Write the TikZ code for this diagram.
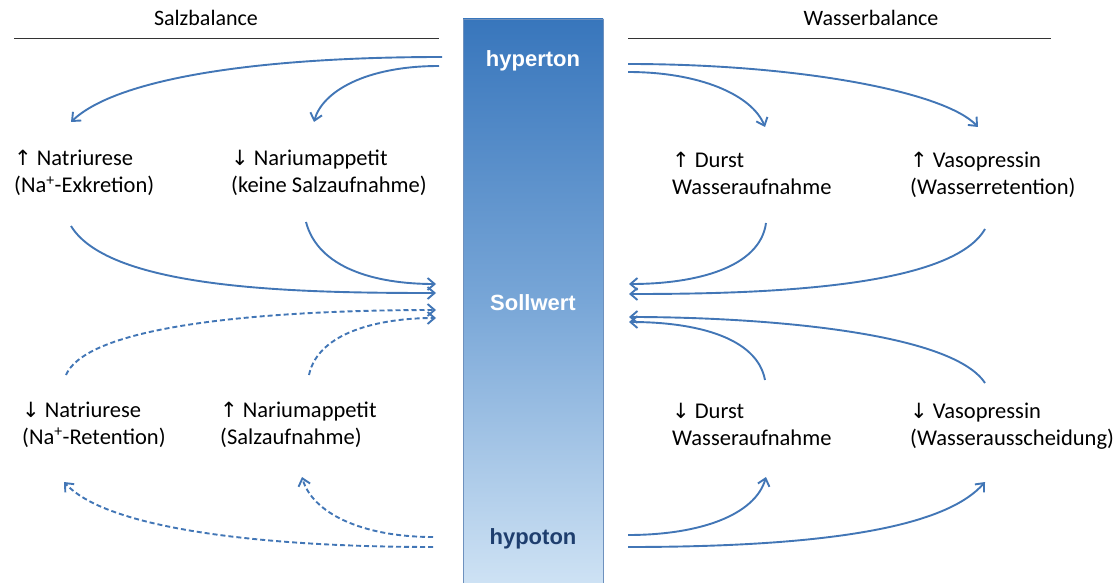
\documentclass[tikz,border=0pt]{standalone}
\usepackage{fontspec}
\setmainfont{Carlito}
\newfontfamily\arialb{Liberation Sans}
\newfontfamily\arrf{DejaVu Sans}
\usetikzlibrary{arrows.meta}
\definecolor{arrowblue}{RGB}{66,118,182}
\definecolor{bartop}{RGB}{56,118,188}
\definecolor{barmid}{RGB}{120,166,215}
\definecolor{barbot}{RGB}{206,226,244}
\definecolor{hypotext}{RGB}{30,62,110}
\newcommand{\UP}{{\arrf\fontsize{21}{20}\selectfont ↑}}
\newcommand{\DN}{{\arrf\fontsize{21}{20}\selectfont ↓}}
\begin{document}
\begin{tikzpicture}[x=1pt,y=-1pt,
  lbl/.style={anchor=base west,align=left,inner sep=0pt,font=\fontsize{22.5}{27}\selectfont},
  head/.style={anchor=base,inner sep=0pt,font=\fontsize{22}{27}\selectfont},
  barlbl/.style={inner sep=0pt,font=\arialb\bfseries\fontsize{22}{26}\selectfont},
  conn/.style={draw=arrowblue,line width=1.9pt,-{Straight Barb[length=7pt,width=12pt,line width=1.9pt]}},
  dconn/.style={conn,dash pattern=on 5pt off 3pt}]
\useasboundingbox (0,0) rectangle (1120,583);
% headings
\node[head] (salz) at (206,26) {Salzbalance};
\node[head] (wasser) at (871,26) {Wasserbalance};
\coordinate (sl1) at (14,38); \coordinate (sl2) at (439,38);
\coordinate (wl1) at (628,38); \coordinate (wl2) at (1051,38);
\draw[line width=0.9pt,black!80] (sl1) -- (sl2);
\draw[line width=0.9pt,black!80] (wl1) -- (wl2);
% bar
\shade[top color=bartop,bottom color=barbot,middle color=barmid,draw={rgb,255:red,110;green,145;blue,190},line width=0.6pt]
  (463,19) rectangle (603,584);
\node[barlbl,text=white] (hyper) at (533,61) {hyperton};
\node[barlbl,text=white] (soll) at (533,303) {Sollwert};
\node[barlbl,text=hypotext] (hypo) at (533,539) {hypoton};
% text nodes (anchor = baseline of last line)
\node[lbl] (natA) at (14,193) {\UP{} Natriurese\\(Na\textsuperscript{+}-Exkretion)};
\node[lbl] (appA) at (231,193) {\DN{} Nariumappetit\\(keine Salzaufnahme)};
\node[lbl] (durA) at (672,195) {\UP{} Durst\\Wasseraufnahme};
\node[lbl] (vasA) at (910,195) {\UP{} Vasopressin\\(Wasserretention)};
\node[lbl] (natB) at (22,444) {\DN{} Natriurese\\(Na\textsuperscript{+}-Retention)};
\node[lbl] (appB) at (220,444) {\UP{} Nariumappetit\\(Salzaufnahme)};
\node[lbl] (durB) at (672,445) {\DN{} Durst\\Wasseraufnahme};
\node[lbl] (vasB) at (910,445) {\DN{} Vasopressin\\(Wasserausscheidung)};
% connector end points
\coordinate (hL1) at (442,57); \coordinate (hL2) at (439,66);
\coordinate (hR1) at (628,64); \coordinate (hR2) at (628,72);
\coordinate (natAt) at (71,122); \coordinate (appAt) at (314,122);
\coordinate (durAt) at (765,127); \coordinate (vasAt) at (978,127);
\coordinate (natAb) at (71,226); \coordinate (appAb) at (306,222);
\coordinate (durAb) at (766,223); \coordinate (vasAb) at (985,229);
\coordinate (sL1) at (436,284); \coordinate (sL2) at (436,293);
\coordinate (sL3) at (436,310); \coordinate (sL4) at (436,318);
\coordinate (sR1) at (629,284); \coordinate (sR2) at (629,294);
\coordinate (sR3) at (629,317); \coordinate (sR4) at (629,322);
\coordinate (natBt) at (66,375); \coordinate (appBt) at (309,375);
\coordinate (durBt) at (765,380); \coordinate (vasBt) at (985,383);
\coordinate (natBb) at (64,482); \coordinate (appBb) at (302,477);
\coordinate (durBb) at (766,477); \coordinate (vasBb) at (985,482);
\coordinate (oL1) at (433,537); \coordinate (oL2) at (433,547);
\coordinate (oR1) at (628,535); \coordinate (oR2) at (628,547);
% hyperton arrows
\draw[conn] (hL1) .. controls (250,57) and (115,80) .. (natAt);
\draw[conn] (hL2) .. controls (365,66) and (322,92) .. (appAt);
\draw[conn] (hR2) .. controls (700,72) and (752,95) .. (durAt);
\draw[conn] (hR1) .. controls (800,64) and (945,92) .. (vasAt);
% to Sollwert (solid)
\draw[conn] (natAb) .. controls (110,290) and (300,293) .. (sL2);
\draw[conn] (appAb) .. controls (318,268) and (375,284) .. (sL1);
\draw[conn] (durAb) .. controls (760,268) and (695,284) .. (sR1);
\draw[conn] (vasAb) .. controls (950,290) and (750,294) .. (sR2);
% to Sollwert (dashed / lower)
\draw[dconn] (natBt) .. controls (90,320) and (300,310) .. (sL3);
\draw[dconn] (appBt) .. controls (318,332) and (380,318) .. (sL4);
\draw[conn] (durBt) .. controls (757,337) and (695,322) .. (sR4);
\draw[conn] (vasBt) .. controls (950,330) and (750,317) .. (sR3);
% hypoton arrows
\draw[dconn] (oL2) .. controls (280,547) and (110,532) .. (natBb);
\draw[dconn] (oL1) .. controls (360,537) and (312,512) .. (appBb);
\draw[conn] (oR1) .. controls (700,535) and (755,515) .. (durBb);
\draw[conn] (oR2) .. controls (850,547) and (950,522) .. (vasBb);
\end{tikzpicture}
\end{document}
